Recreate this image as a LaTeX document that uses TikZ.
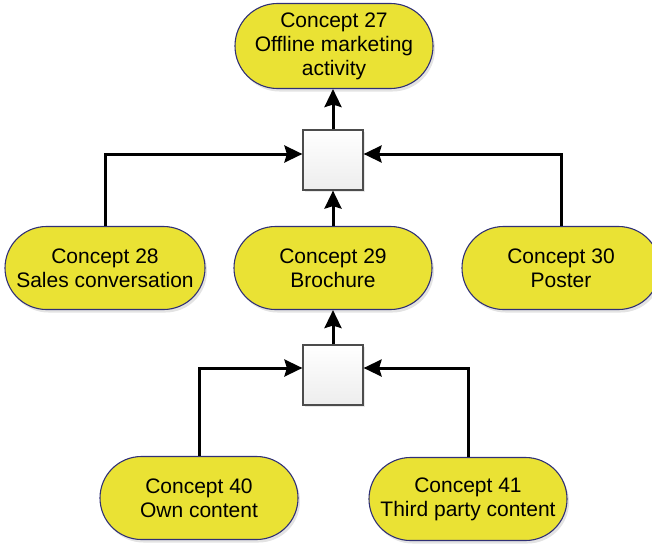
\documentclass[tikz,border=0pt]{standalone}
\usepackage{fontspec}
\setmainfont{Liberation Sans}
\usetikzlibrary{shapes.misc,shadows,arrows.meta}
\definecolor{conceptfill}{RGB}{234,226,52}
\definecolor{conceptedge}{RGB}{48,48,118}
\begin{document}
\begin{tikzpicture}[x=1pt,y=-1pt,
  concept/.style={rounded rectangle, draw=conceptedge, line width=1.1pt,
    fill=conceptfill, minimum width=198pt, minimum height=83pt, inner sep=0pt,
    align=center, font=\fontsize{21}{24}\selectfont,
    drop shadow={opacity=0.22, shadow xshift=2pt, shadow yshift=-3pt}},
  junction/.style={draw=black!70, line width=1.2pt, top color=white,
    bottom color=black!7, minimum size=60pt, inner sep=0pt,
    drop shadow={opacity=0.18, shadow xshift=2pt, shadow yshift=-2pt}},
  link/.style={line width=3pt,
    -{Stealth[length=18pt,width=17pt,inset=2.5pt]}}
]
\useasboundingbox (0,0) rectangle (652,543);

% concept nodes
\node[concept, minimum height=85pt] (c27) at (334,46) {Concept 27\\Offline marketing\\activity};
\node[concept, minimum width=200pt] (c28) at (105,268) {Concept 28\\Sales conversation};
\node[concept] (c29) at (333,268) {Concept 29\\Brochure};
\node[concept] (c30) at (561,268) {Concept 30\\Poster};
\node[concept] (c40) at (199,498) {Concept 40\\Own content};
\node[concept] (c41) at (468,499) {Concept 41\\Third party content};

% junction boxes
\node[junction] (j1) at (333,160) {};
\node[junction] (j2) at (333,375) {};

% connectors
\draw[link] (j1.north) -- (j1.north |- c27.south);
\draw[link] (c28.north) |- ([yshift=6pt]j1.west);
\draw[link] (c30.north) |- ([yshift=6pt]j1.east);
\draw[link] (c29.north) -- (j1.south);
\draw[link] (j2.north) -- (j2.north |- c29.south);
\draw[link] (c40.north) |- ([yshift=7pt]j2.west);
\draw[link] (c41.north) |- ([yshift=7pt]j2.east);
\end{tikzpicture}
\end{document}
